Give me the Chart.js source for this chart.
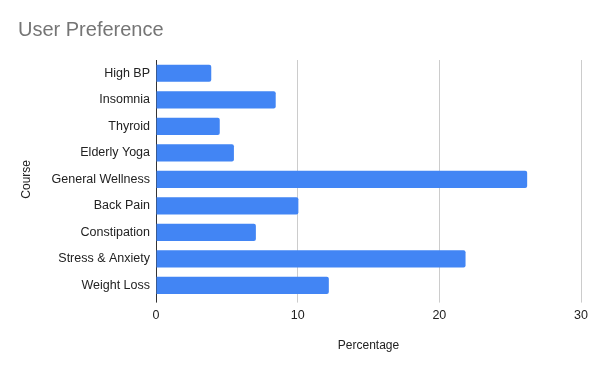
<!DOCTYPE html>
<html>
<head>
<meta charset="utf-8">
<script src="https://cdn.jsdelivr.net/npm/chart.js@4"></script>
<style>
  body { margin: 0; background: #fff; }
</style>
</head>
<body>
<canvas id="prefChart" width="600" height="371"></canvas>
<script>
// Horizontal bar chart of course preference share

const courses = ["High BP", "Insomnia", "Thyroid", "Elderly Yoga", "General Wellness",
                 "Back Pain", "Constipation", "Stress & Anxiety", "Weight Loss"];
const percentages = [3.9, 8.45, 4.5, 5.5, 26.2, 10.05, 7.05, 21.85, 12.2];
const xTicks = [0, 10, 20, 30];

const font = "'Liberation Sans', Arial, sans-serif";

new Chart(document.getElementById("prefChart").getContext("2d"), {
    type: "bar",
    data: {
        labels: courses,
        datasets: [{
            label: "Percentage",
            data: percentages,
            backgroundColor: "#4285F4",
            borderRadius: 2,
            borderSkipped: "start",
            categoryPercentage: 1,
            barPercentage: 0.65
        }]
    },
    options: {
        indexAxis: "y",
        responsive: false,
        animation: false,
        layout: { padding: { left: 18, right: 19, top: 0, bottom: 0 } },
        plugins: {
            legend: { display: false },
            tooltip: { enabled: false },
            title: {
                display: true,
                text: "User Preference",
                align: "start",
                color: "#757575",
                font: { family: font, size: 20, weight: "normal" },
                padding: { top: 18, bottom: 18 }
            }
        },
        scales: {
            x: {
                min: xTicks[0],
                max: xTicks[xTicks.length - 1],
                afterBuildTicks: (scale) => {
                    scale.ticks = xTicks.map(v => ({ value: v }));
                },
                grid: {
                    color: (ctx) => ctx.tick && ctx.tick.value === 0 ? "#333333" : "#cccccc",
                    tickLength: 4
                },
                border: { display: false },
                ticks: {
                    color: "#222222",
                    padding: 5,
                    font: { family: font, size: 12.5 }
                },
                title: {
                    display: true,
                    text: "Percentage",
                    color: "#222222",
                    font: { family: font, size: 12 },
                    padding: { top: 11, bottom: 18 }
                }
            },
            y: {
                afterFit: (scale) => { scale.width = 138; },
                grid: { display: false, drawTicks: false },
                border: { display: true, color: "#333333" },
                ticks: {
                    color: "#222222",
                    padding: 6,
                    font: { family: font, size: 12.5 }
                },
                title: {
                    display: true,
                    text: "Course",
                    color: "#222222",
                    font: { family: font, size: 12 },
                    padding: { top: 1, bottom: 0 }
                }
            }
        }
    }
});
</script>
</body>
</html>
